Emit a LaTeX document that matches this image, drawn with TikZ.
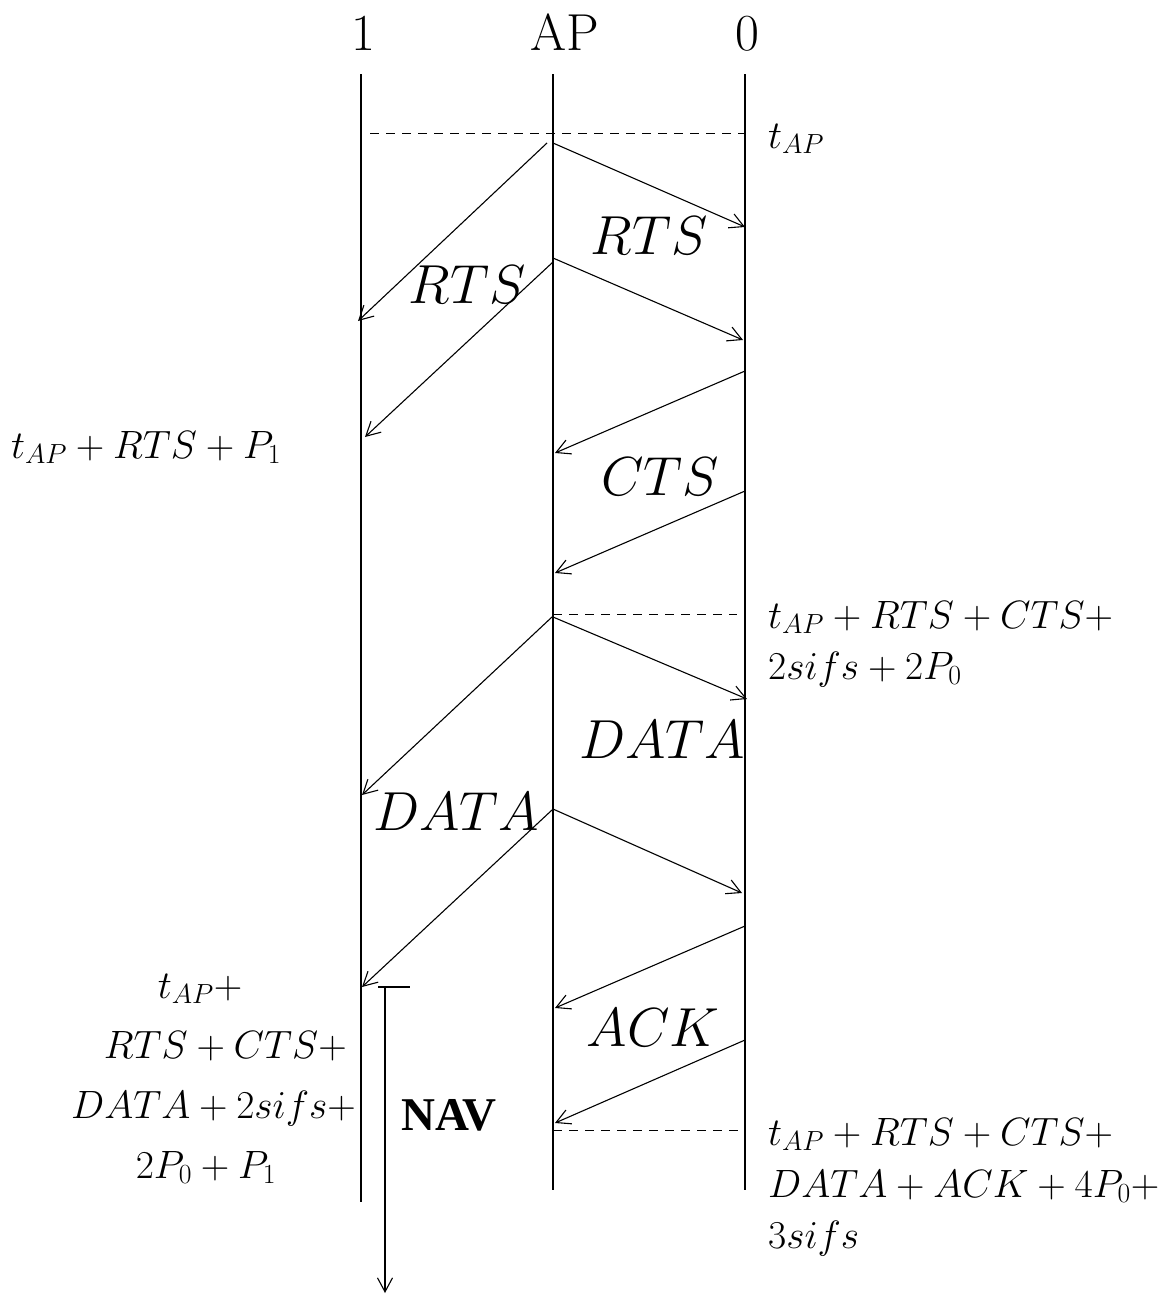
\RequirePackage{fix-cm}
\documentclass[tikz,border=0pt]{standalone}
\usepackage{fontspec}
\newfontfamily\timesf{Liberation Serif}
\usetikzlibrary{arrows.meta}
\tikzset{
  life/.style={line width=1.1pt},
  msg/.style={line width=1.1pt,-{Straight Barb[length=14pt,width=15pt,line width=1.1pt]}},
  tline/.style={line width=1pt,dash pattern=on 9pt off 7pt},
  head/.style={font=\rmfamily\fontsize{52}{60}\selectfont, inner sep=0pt},
  big/.style={font=\fontsize{55}{60}\selectfont, inner sep=0pt},
  tlab/.style={font=\fontsize{39.5}{44}\selectfont, inner sep=0pt},
  navlab/.style={font=\timesf\bfseries\fontsize{47}{50}\selectfont, inner sep=0pt}
}
\begin{document}
\begin{tikzpicture}[x=1pt,y=-1pt]
\useasboundingbox (0,0) rectangle (1168,1294);
% headers
\node[head, anchor=base] (h1) at (363,50) {1};
\node[head, anchor=base] (hap) at (565,50) {AP};
\node[head, anchor=base] (h0) at (747,50) {0};
% lifelines
\coordinate (l1t) at (361,74);  \coordinate (l1b) at (361,1202);
\coordinate (lat) at (553,74);  \coordinate (lab) at (553,1190);
\coordinate (l0t) at (745,74);  \coordinate (l0b) at (745,1190);
\draw[life] (l1t) -- (l1b);
\draw[life] (lat) -- (lab);
\draw[life] (l0t) -- (l0b);
% time lines
\coordinate (d1a) at (370,133); \coordinate (d1b) at (745,133);
\coordinate (d2a) at (553,614); \coordinate (d2b) at (737,614);
\coordinate (d3a) at (553,1130); \coordinate (d3b) at (740,1130);
\draw[tline] (d1a) -- (d1b);
\draw[tline] (d2a) -- (d2b);
\draw[tline] (d3a) -- (d3b);
% RTS
\coordinate (r1s) at (553,143); \coordinate (r1e) at (745,227);
\coordinate (r2s) at (547,143); \coordinate (r2e) at (358,321);
\coordinate (r3s) at (553,258); \coordinate (r3e) at (743,340);
\coordinate (r4s) at (553,262); \coordinate (r4e) at (365,437);
\draw[msg] (r1s) -- (r1e);
\draw[msg] (r2s) -- (r2e);
\draw[msg] (r3s) -- (r3e);
\draw[msg] (r4s) -- (r4e);
% CTS
\coordinate (c1s) at (745,371); \coordinate (c1e) at (555,453);
\coordinate (c2s) at (745,491); \coordinate (c2e) at (555,573);
\draw[msg] (c1s) -- (c1e);
\draw[msg] (c2s) -- (c2e);
% DATA
\coordinate (a1s) at (553,617); \coordinate (a1e) at (747,699);
\coordinate (a2s) at (552,617); \coordinate (a2e) at (362,795);
\coordinate (a3s) at (553,809); \coordinate (a3e) at (742,893);
\coordinate (a4s) at (552,810); \coordinate (a4e) at (362,987);
\draw[msg] (a1s) -- (a1e);
\draw[msg] (a2s) -- (a2e);
\draw[msg] (a3s) -- (a3e);
\draw[msg] (a4s) -- (a4e);
% ACK
\coordinate (k1s) at (745,926); \coordinate (k1e) at (555,1008);
\coordinate (k2s) at (745,1040); \coordinate (k2e) at (555,1123);
\draw[msg] (k1s) -- (k1e);
\draw[msg] (k2s) -- (k2e);
% NAV
\coordinate (nb1) at (378,987); \coordinate (nb2) at (410,987);
\coordinate (ns) at (385,987); \coordinate (ne) at (385,1293);
\draw[life] (nb1) -- (nb2);
\draw[msg] (ns) -- (ne);
\node[navlab] (nav) at (449,1115) {NAV};
% big labels
\node[big] (lr1) at (649,236) {$RTS$};
\node[big] (lr2) at (467,285) {$RTS$};
\node[big] (lc) at (660,477) {$CTS$};
\node[big] (ld1) at (662,740) {$DATA$};
\node[big] (ld2) at (456,812) {$DATA$};
\node[big] (lk) at (653,1028) {$ACK$};
% time labels
\node[tlab, anchor=base west] (t1) at (768,148) {$t_{AP}$};
\node[tlab, anchor=base west] (t2) at (11,458) {$t_{AP}+RTS+P_1$};
\node[tlab, anchor=base west] (t3a) at (768,628) {$t_{AP}+RTS+CTS+$};
\node[tlab, anchor=base west] (t3b) at (768,679) {$2sifs+2P_0$};
\node[tlab, anchor=base west] (t4a) at (768,1145) {$t_{AP}+RTS+CTS+$};
\node[tlab, anchor=base west] (t4b) at (768,1197) {$DATA+ACK+4P_0+$};
\node[tlab, anchor=base west] (t4c) at (768,1248) {$3sifs$};
\node[tlab, anchor=base] (t5a) at (200,998) {$t_{AP}+$};
\node[tlab, anchor=base east] (t5b) at (347,1058) {$RTS+CTS+$};
\node[tlab, anchor=base east] (t5c) at (356,1118) {$DATA+2sifs+$};
\node[tlab, anchor=base] (t5d) at (206,1178) {$2P_0+P_1$};
\end{tikzpicture}
\end{document}
